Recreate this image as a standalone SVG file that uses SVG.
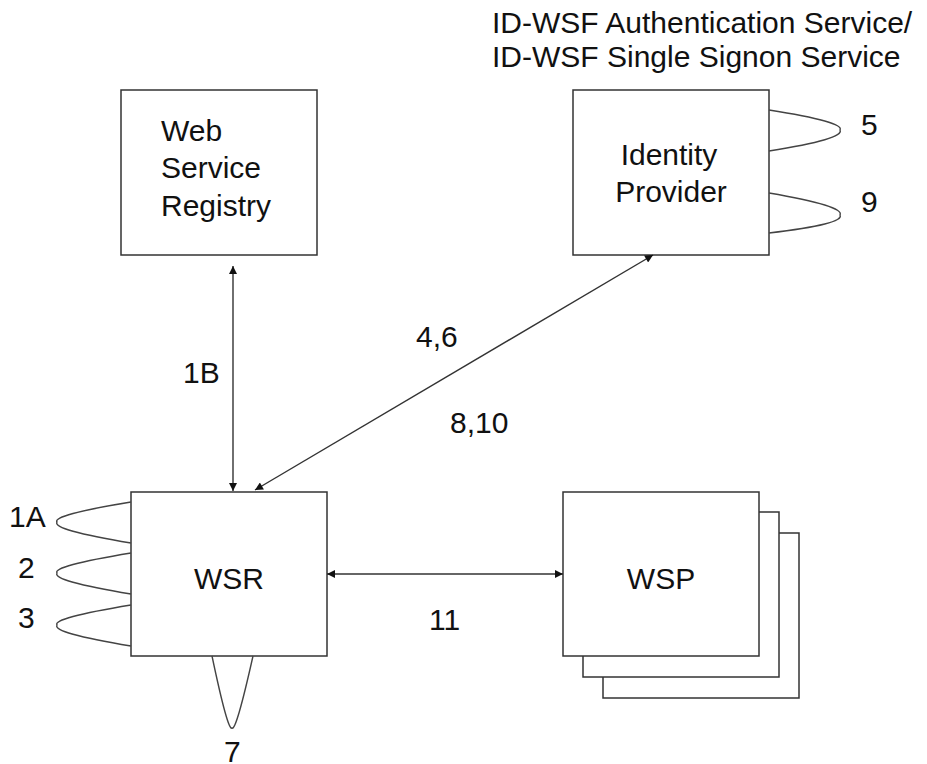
<svg xmlns="http://www.w3.org/2000/svg" width="927" height="764" viewBox="0 0 927 764">
<style>
.box{fill:#fff;stroke:#333;stroke-width:1.5}
.t{font-family:"Liberation Sans",Arial,sans-serif;font-size:30px;fill:#111}
.c{fill:none;stroke:#333;stroke-width:1.4}
.loop{fill:none;stroke:#444;stroke-width:1.4}
</style>
<defs>
<marker id="ah" viewBox="0 0 10 10" refX="10" refY="5" markerWidth="10" markerHeight="8" markerUnits="userSpaceOnUse" orient="auto-start-reverse">
<path d="M0,0 L10,5 L0,10 z" fill="#111"/>
</marker>
</defs>
<rect width="927" height="764" fill="#fff"/>
<g id="title">
<text class="t" x="492" y="33">ID-WSF Authentication Service/</text>
<text class="t" x="492" y="67">ID-WSF Single Signon Service</text>
</g>
<g id="registry">
<rect class="box" x="121" y="90" width="196" height="165"/>
<text class="t" x="161" y="141">Web</text>
<text class="t" x="161" y="178">Service</text>
<text class="t" x="161" y="216">Registry</text>
</g>
<g id="idp">
<rect class="box" x="573" y="90" width="196" height="165"/>
<text class="t" x="669" y="165" text-anchor="middle">Identity</text>
<text class="t" x="671" y="202" text-anchor="middle">Provider</text>
<path class="loop" d="M769,110 Q845,122 840,130 Q845,139 769,151"/>
<path class="loop" d="M769,193 Q845,206 840,215 Q845,224 769,233"/>
<text class="t" x="861" y="135">5</text>
<text class="t" x="861" y="212">9</text>
</g>
<g id="wsr">
<rect class="box" x="131" y="492" width="196" height="164"/>
<text class="t" x="229" y="589" text-anchor="middle">WSR</text>
<path class="loop" d="M131,502 Q52,515 57,522 Q52,530 131,543"/>
<path class="loop" d="M131,553 Q52,566 57,573 Q52,581 131,594"/>
<path class="loop" d="M131,605 Q52,618 57,625 Q52,633 131,646"/>
<path class="loop" d="M212,656 Q228,732 232,728 Q236,732 253,656"/>
<text class="t" x="9" y="527">1A</text>
<text class="t" x="18" y="578">2</text>
<text class="t" x="18" y="628">3</text>
<text class="t" x="224" y="762">7</text>
</g>
<g id="wsp">
<rect class="box" x="603" y="533" width="196" height="165"/>
<rect class="box" x="583" y="512" width="196" height="165"/>
<rect class="box" x="563" y="492" width="196" height="164"/>
<text class="t" x="661" y="589" text-anchor="middle">WSP</text>
</g>
<g id="connectors">
<line class="c" x1="233" y1="266" x2="233" y2="491" marker-start="url(#ah)" marker-end="url(#ah)"/>
<line class="c" x1="653" y1="255" x2="255" y2="490" marker-start="url(#ah)" marker-end="url(#ah)"/>
<line class="c" x1="327" y1="574" x2="563" y2="574" marker-start="url(#ah)" marker-end="url(#ah)"/>
<text class="t" x="183" y="383">1B</text>
<text class="t" x="416" y="347">4,6</text>
<text class="t" x="450" y="433">8,10</text>
<text class="t" x="429" y="630">11</text>
</g>
</svg>
